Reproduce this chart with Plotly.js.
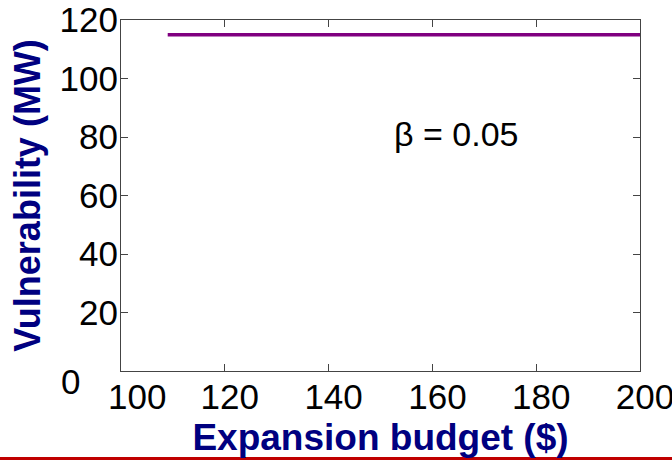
<!DOCTYPE html>
<html>
<head>
<meta charset="utf-8">
<script src="https://cdn.plot.ly/plotly-3.0.1.min.js"></script>
<style>html,body{margin:0;padding:0;background:#fff;}#chart{width:672px;height:460px;}</style>
</head>
<body>
<div id="chart"></div>
<script>
const budget = [109, 120, 130, 140, 150, 160, 170, 180, 190, 200];
const vulnerability = [115, 115, 115, 115, 115, 115, 115, 115, 115, 115];
const xTicks = [100, 120, 140, 160, 180, 200];
const yTicks = [0, 20, 40, 60, 80, 100, 120];
const annotationText = "β = 0.05";
const xTitle = "Expansion budget ($)";
const yTitle = "Vulnerability (MW)";

const font = "Liberation Sans, Arial, sans-serif";
const navy = "#000080";

const trace = {
  x: budget, y: vulnerability, type: "scatter", mode: "lines",
  line: {color: "#800080", width: 3.5}, hoverinfo: "skip"
};

const axisCommon = {
  showgrid: false, zeroline: false, showline: true, linecolor: "#444", linewidth: 1,
  mirror: "ticks", ticks: "inside", ticklen: 7, tickcolor: "#444", tickwidth: 1,
  tickfont: {family: font, size: 35, color: "#000"}, automargin: false, fixedrange: true,
  ticklabeloverflow: "allow"
};

// The first labels of both axes sit next to each other at the origin; they are
// drawn as annotations nudged apart (as in the reference) instead of as tick text.
const xTickText = xTicks.map((v, i) => i === 0 ? "" : String(v));
const yTickText = yTicks.map((v, i) => i === 0 ? "" : String(v));

const layout = {
  width: 672, height: 460,
  margin: {l: 121, r: 32, t: 20, b: 89},
  paper_bgcolor: "#fff", plot_bgcolor: "#fff",
  showlegend: false,
  xaxis: Object.assign({}, axisCommon, {
    range: [100, 200], tickvals: xTicks, ticktext: xTickText,
    ticklabelshift: 5, ticklabelstandoff: -5,
    title: {text: xTitle, font: {family: font, size: 37, color: navy, weight: "bold"}, standoff: 9}
  }),
  yaxis: Object.assign({}, axisCommon, {
    range: [0, 120], tickvals: yTicks, ticktext: yTickText, ticklabelstandoff: -5,
    title: {text: yTitle, font: {family: font, size: 36, color: navy, weight: "bold"}, standoff: 7}
  }),
  annotations: [
    {
      x: 164.5, y: 81, xref: "x", yref: "y", text: annotationText, showarrow: false,
      font: {family: font, size: 34, color: "#000"}, xanchor: "center", yanchor: "middle"
    },
    {
      x: (70.5 - 121) / 519, y: -10 / 351, xref: "paper", yref: "paper", text: String(yTicks[0]),
      showarrow: false, font: {family: font, size: 35, color: "#000"}, xanchor: "center", yanchor: "middle"
    },
    {
      x: (137 - 121) / 519, y: -25 / 351, xref: "paper", yref: "paper", text: String(xTicks[0]),
      showarrow: false, font: {family: font, size: 35, color: "#000"}, xanchor: "center", yanchor: "middle"
    }
  ],
  shapes: [{
    type: "line", xref: "paper", yref: "paper",
    x0: -121/519, x1: 551/519, y0: -87.5/351, y1: -87.5/351,
    line: {color: "#c00000", width: 3}
  }]
};

Plotly.newPlot("chart", [trace], layout, {displayModeBar: false, staticPlot: true});
</script>
</body>
</html>
